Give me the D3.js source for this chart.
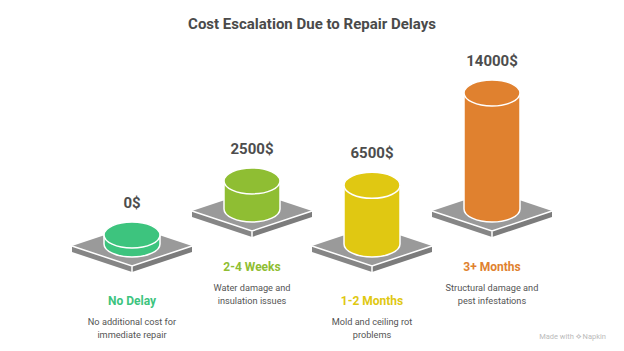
<!DOCTYPE html>
<html>
<head>
<meta charset="utf-8">
<script src="https://cdn.jsdelivr.net/npm/d3@7"></script>
<style>
  html, body { margin: 0; padding: 0; background: #fff; }
  svg { display: block; font-family: Roboto, "Noto Sans", sans-serif; }
</style>
</head>
<body>
<div id="chart"></div>
<script>
const categories = ["No Delay", "2-4 Weeks", "1-2 Months", "3+ Months"];
const costs = [0, 2500, 6500, 14000];
const descriptions = [
  ["No additional cost for", "immediate repair"],
  ["Water damage and", "insulation issues"],
  ["Mold and ceiling rot", "problems"],
  ["Structural damage and", "pest infestations"]
];
const colors = ["#3dc47e", "#8fbe33", "#e0c812", "#e0812f"];

const width = 624, height = 351;

const svg = d3.select("#chart").append("svg")
  .attr("width", width)
  .attr("height", height);

// title
svg.append("text")
  .attr("x", 312)
  .attr("y", 29)
  .attr("text-anchor", "middle")
  .attr("font-size", "15px")
  .attr("font-weight", "bold")
  .attr("fill", "#4a4a4a")
  .text("Cost Escalation Due to Repair Delays");

const x = d3.scalePoint().domain(categories).range([132, 492]);
const h = d3.scaleLinear().domain([0, 14000]).range([9, 116]);

const rx = 28, ry = 13;
const pw = 60, ph = 20, thick = 6;

categories.forEach((cat, i) => {
  const cx = x(cat);
  const cy = i % 2 ? 211 : 246;   // staggered platforms
  const g = svg.append("g");

  // platform sides
  g.append("path")
    .attr("d", `M${cx - pw},${cy} L${cx},${cy + ph} L${cx},${cy + ph + thick} L${cx - pw},${cy + thick} Z`)
    .attr("fill", "#868686");
  g.append("path")
    .attr("d", `M${cx},${cy + ph} L${cx + pw},${cy} L${cx + pw},${cy + thick} L${cx},${cy + ph + thick} Z`)
    .attr("fill", "#7c7c7c");
  // platform top
  g.append("path")
    .attr("d", `M${cx - pw},${cy} L${cx},${cy - ph} L${cx + pw},${cy} L${cx},${cy + ph} Z`)
    .attr("fill", "#9a9a9a");
  g.append("path")
    .attr("d", `M${cx - pw},${cy} L${cx},${cy + ph} L${cx + pw},${cy} M${cx},${cy + ph} L${cx},${cy + ph + thick}`)
    .attr("fill", "none")
    .attr("stroke", "#fff")
    .attr("stroke-width", 1.5);

  // cylinder
  const botY = cy - 2;
  const topY = botY - h(costs[i]);
  g.append("path")
    .attr("d", `M${cx - rx},${topY} L${cx - rx},${botY} A${rx},${ry} 0 0 0 ${cx + rx},${botY} L${cx + rx},${topY} Z`)
    .attr("fill", colors[i])
    .attr("stroke", "#fff")
    .attr("stroke-width", 1.5);
  g.append("ellipse")
    .attr("cx", cx)
    .attr("cy", topY)
    .attr("rx", rx)
    .attr("ry", ry)
    .attr("fill", colors[i])
    .attr("stroke", "#fff")
    .attr("stroke-width", 1.5);

  // value label
  g.append("text")
    .attr("x", cx)
    .attr("y", topY - 27)
    .attr("text-anchor", "middle")
    .attr("font-size", "15px")
    .attr("font-weight", "bold")
    .attr("fill", "#4d4d4d")
    .text(costs[i] + "$");

  // category label + description
  const ly = i % 2 ? 271 : 305;
  g.append("text")
    .attr("x", cx)
    .attr("y", ly)
    .attr("text-anchor", "middle")
    .attr("font-size", "12px")
    .attr("font-weight", "bold")
    .attr("fill", colors[i])
    .text(cat);
  descriptions[i].forEach((line, j) => {
    g.append("text")
      .attr("x", cx)
      .attr("y", ly + 20 + j * 13)
      .attr("text-anchor", "middle")
      .attr("font-size", "9.2px")
      .attr("fill", "#555")
      .text(line);
  });
});

// watermark
svg.append("text")
  .attr("x", 606)
  .attr("y", 339)
  .attr("text-anchor", "end")
  .attr("font-size", "7.5px")
  .attr("fill", "#bbb")
  .text("Made with ⟡ Napkin");
</script>
</body>
</html>
